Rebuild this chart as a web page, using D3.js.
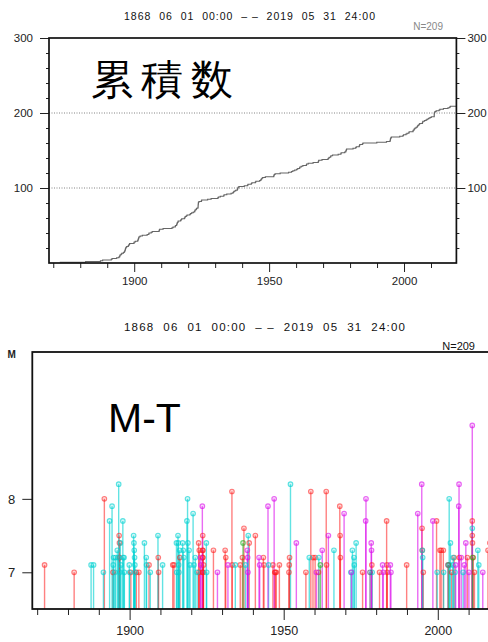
<!DOCTYPE html>
<html>
<head>
<meta charset="utf-8">
<script src="https://cdn.jsdelivr.net/npm/d3@7/dist/d3.min.js"></script>
<style>
  html, body { margin: 0; padding: 0; background: #fff; }
  svg { display: block; }
  text { font-family: "Liberation Sans", Arial, Helvetica, sans-serif; }
</style>
</head>
<body>
<svg id="chart" width="488" height="642"></svg>
<script>
// ---- period and ticks ----
const periodLabel = "1868  06  01  00:00  – –  2019  05  31  24:00";
const periodStart = 1868.42;
const periodEnd = 2019.41;
const countTicks = [100, 200, 300];
const countMinorTicks = [20, 40, 60, 80, 120, 140, 160, 180, 220, 240, 260, 280];
const countGrid = [100, 200];
const yearTicks = [1900, 1950, 2000];
const yearMinorTicks = [1870, 1880, 1890, 1910, 1920, 1930, 1940, 1960, 1970, 1980, 1990, 2010];
const magTicks = [7, 8];

// ---- events: [decimal year, magnitude], one list per colour group ----
const redEvents = [
  [1872.4, 7.1], [1882.0, 7.0], [1891.8, 8.0], [1894.6, 7.0], [1896.6, 7.5], [1896.7, 7.4],
  [1896.75, 7.2], [1900.4, 7.0], [1902.2, 7.0], [1903.0, 7.0], [1906.3, 7.1], [1909.3, 7.2],
  [1909.4, 7.0], [1914.0, 7.1], [1914.4, 7.1], [1916.3, 7.2], [1922.4, 7.4], [1922.5, 7.0],
  [1922.6, 7.3], [1923.67, 7.3], [1923.68, 7.2], [1923.7, 7.0], [1923.72, 7.5], [1923.75, 7.2],
  [1923.78, 7.3], [1923.8, 7.0], [1924.0, 7.1], [1927.2, 7.3], [1931.0, 7.3], [1931.2, 7.2],
  [1933.2, 8.1], [1933.3, 7.1], [1935.9, 7.1], [1936.6, 7.2], [1937.1, 7.6], [1938.8, 7.4],
  [1940.8, 7.5], [1943.4, 7.2], [1943.6, 7.1], [1946.5, 7.1], [1947.1, 7.0], [1947.3, 7.0],
  [1947.6, 7.0], [1948.6, 7.1], [1951.7, 7.0], [1951.8, 7.1], [1951.9, 7.2], [1957.2, 7.0],
  [1958.8, 8.1], [1959.5, 7.2], [1960.2, 7.2], [1961.3, 7.0], [1963.8, 8.1], [1963.9, 7.1],
  [1968.2, 7.9], [1968.3, 7.5], [1968.4, 7.2], [1975.6, 7.0], [1978.6, 7.1], [1981.1, 7.0],
  [1983.4, 7.7], [1983.5, 7.1], [1983.6, 7.0], [1989.9, 7.1], [1994.9, 7.6], [1994.95, 7.3],
  [1995.3, 7.0], [1999.6, 7.7], [2000.7, 7.3], [2001.1, 7.3], [2001.8, 7.3], [2004.5, 7.0],
  [2005.3, 7.2], [2007.0, 7.2], [2009.6, 7.2], [2011.19, 7.7], [2011.2, 7.5], [2011.25, 7.4],
  [2011.5, 7.2], [2011.9, 7.0], [2016.3, 7.3], [2016.9, 7.4]
];
const cyanEvents = [
  [1887.5, 7.1], [1888.3, 7.1], [1891.5, 7.0], [1893.5, 7.7], [1894.3, 7.9], [1894.7, 7.1],
  [1894.8, 7.2], [1895.2, 7.0], [1895.4, 7.2], [1896.0, 7.3], [1896.3, 7.2], [1896.45, 8.2],
  [1896.8, 7.0], [1897.0, 7.4], [1897.2, 7.1], [1897.8, 7.7], [1897.9, 7.2], [1898.2, 7.2],
  [1898.3, 7.0], [1899.9, 7.1], [1900.0, 7.0], [1901.3, 7.5], [1901.4, 7.4], [1901.5, 7.3],
  [1901.6, 7.2], [1901.7, 7.1], [1901.8, 7.0], [1904.8, 7.4], [1905.4, 7.2], [1905.5, 7.1],
  [1906.7, 7.0], [1909.2, 7.5], [1910.7, 7.1], [1915.2, 7.4], [1915.3, 7.0], [1915.7, 7.5],
  [1915.8, 7.4], [1915.9, 7.1], [1916.0, 7.0], [1916.2, 7.3], [1917.2, 7.4], [1917.4, 7.3],
  [1917.6, 7.2], [1918.6, 7.7], [1918.8, 8.0], [1918.9, 7.4], [1919.3, 7.3], [1919.6, 7.1],
  [1920.6, 7.8], [1920.9, 7.1], [1921.3, 7.2], [1921.9, 7.0], [1924.9, 7.4], [1925.0, 7.0],
  [1934.3, 7.1], [1937.6, 7.1], [1938.5, 7.5], [1945.1, 7.1], [1952.2, 8.2], [1958.3, 7.2],
  [1961.4, 7.2], [1966.3, 7.3], [1971.8, 7.0], [1972.3, 7.3], [1972.8, 7.2], [1972.9, 7.1],
  [1973.5, 7.4], [1978.7, 7.0], [1995.0, 7.3], [1995.1, 7.2], [1999.8, 7.0], [2001.9, 7.0],
  [2003.7, 8.0], [2003.8, 7.1], [2004.1, 7.4], [2004.9, 7.1], [2005.0, 7.2], [2005.6, 7.0],
  [2008.2, 7.0], [2011.2, 7.6], [2013.0, 7.3], [2013.3, 7.1], [2017.2, 7.0]
];
const magentaEvents = [
  [1923.0, 7.2], [1923.1, 7.1], [1923.6, 7.9], [1928.5, 7.0], [1931.9, 7.1], [1938.2, 7.3],
  [1938.3, 7.2], [1938.4, 7.0], [1942.0, 7.2], [1942.2, 7.1], [1944.9, 7.9], [1946.9, 8.0],
  [1954.1, 7.4], [1960.6, 7.0], [1962.5, 7.3], [1964.5, 7.5], [1969.6, 7.8], [1972.0, 7.0],
  [1976.6, 7.7], [1976.7, 8.0], [1978.4, 7.4], [1978.5, 7.3], [1982.1, 7.1], [1982.3, 7.0],
  [1984.6, 7.1], [1984.8, 7.0], [1993.5, 7.8], [1994.8, 8.2], [1998.4, 7.7], [2003.3, 7.1],
  [2005.8, 7.1], [2006.8, 7.9], [2006.9, 8.2], [2007.6, 7.2], [2008.6, 7.1], [2009.1, 7.4],
  [2010.1, 7.0], [2011.19, 9.0], [2014.6, 7.0]
];
const greenEvents = [
  [1936.8, 7.4], [1961.9, 7.1], [2003.4, 7.1], [2011.3, 7.2]
];
const grayEvents = [
  [1978.0, 7.0]
];

const groupStyle = {
  red:     { color: "#ff1a1a", opacity: 0.55 },
  cyan:    { color: "#00d2d2", opacity: 0.62 },
  magenta: { color: "#dc10ec", opacity: 0.62 },
  green:   { color: "#20b020", opacity: 0.6 },
  gray:    { color: "#505070", opacity: 0.6 }
};

const events = [].concat(
  redEvents.map(d => ({ year: d[0], mag: d[1], group: "red" })),
  cyanEvents.map(d => ({ year: d[0], mag: d[1], group: "cyan" })),
  magentaEvents.map(d => ({ year: d[0], mag: d[1], group: "magenta" })),
  greenEvents.map(d => ({ year: d[0], mag: d[1], group: "green" })),
  grayEvents.map(d => ({ year: d[0], mag: d[1], group: "gray" }))
);
const total = events.length;

// running count for the cumulative curve
const byYear = events.slice().sort((a, b) => a.year - b.year);
const cumulative = byYear.map((d, i) => ({ year: d.year, count: i + 1 }));
cumulative.push({ year: periodEnd, count: total });

const svg = d3.select("#chart");

function styleAxis(g, fontSize, color) {
  g.select(".domain").remove();
  g.selectAll(".tick line").attr("stroke", "#222").attr("stroke-width", 1);
  g.selectAll(".tick text").attr("font-size", fontSize).attr("fill", color)
    .attr("font-family", "Liberation Sans, Arial, sans-serif");
}

// =================== cumulative count panel ===================
const upper = { left: 49, right: 456.4, top: 38, bottom: 263 };
const xUp = d3.scaleLinear().domain([periodStart, periodEnd]).range([upper.left, upper.right]);
const yUp = d3.scaleLinear().domain([0, 300]).range([upper.bottom, upper.top]);

svg.append("text")
  .attr("x", 124).attr("y", 19.5)
  .attr("font-size", 10.5).attr("fill", "#111")
  .attr("textLength", 251).attr("lengthAdjust", "spacing")
  .style("white-space", "pre")
  .text(periodLabel);

svg.append("text")
  .attr("x", 443).attr("y", 29.5)
  .attr("text-anchor", "end")
  .attr("font-size", 10).attr("fill", "#888")
  .text("N=" + total);

// dotted reference lines
svg.append("g").selectAll("line").data(countGrid).join("line")
  .attr("x1", upper.left).attr("x2", upper.right)
  .attr("y1", d => yUp(d)).attr("y2", d => yUp(d))
  .attr("stroke", "#777").attr("stroke-width", 0.9)
  .attr("stroke-dasharray", "1,1.5");

// y axes both sides
svg.append("g").attr("transform", `translate(${upper.left},0)`)
  .call(d3.axisLeft(yUp).tickValues(countTicks).tickSize(9).tickPadding(7))
  .call(g => styleAxis(g, 11.5, "#222"));
svg.append("g").attr("transform", `translate(${upper.left},0)`)
  .call(d3.axisLeft(yUp).tickValues(countMinorTicks).tickSize(3).tickFormat(""))
  .call(g => styleAxis(g, 11, "#222"));
svg.append("g").attr("transform", `translate(${upper.right},0)`)
  .call(d3.axisRight(yUp).tickValues(countTicks).tickSize(9).tickPadding(2))
  .call(g => styleAxis(g, 11.5, "#222"));
svg.append("g").attr("transform", `translate(${upper.right},0)`)
  .call(d3.axisRight(yUp).tickValues(countMinorTicks).tickSize(3).tickFormat(""))
  .call(g => styleAxis(g, 11, "#222"));

// x axis
svg.append("g").attr("transform", `translate(0,${upper.bottom})`)
  .call(d3.axisBottom(xUp).tickValues(yearMinorTicks).tickSize(5).tickFormat(""))
  .call(g => styleAxis(g, 11, "#222"));
svg.append("g").attr("transform", `translate(0,${upper.bottom})`)
  .call(d3.axisBottom(xUp).tickValues(yearTicks).tickSize(9).tickPadding(4.5).tickFormat(d3.format("d")))
  .call(g => styleAxis(g, 11.5, "#222"));

// cumulative step curve
const stepLine = d3.line()
  .x(d => xUp(d.year))
  .y(d => yUp(d.count))
  .curve(d3.curveStepAfter);
svg.append("path")
  .datum(cumulative)
  .attr("fill", "none")
  .attr("stroke", "#666")
  .attr("stroke-width", 1.2)
  .attr("d", stepLine);

// frame
svg.append("rect")
  .attr("x", upper.left).attr("y", upper.top)
  .attr("width", upper.right - upper.left).attr("height", upper.bottom - upper.top)
  .attr("fill", "none").attr("stroke", "#111").attr("stroke-width", 1.7);

svg.append("text")
  .attr("x", 91).attr("y", 94)
  .attr("font-family", "'Noto Sans CJK JP', 'Noto Sans CJK SC', sans-serif")
  .attr("font-size", 42).attr("letter-spacing", 8).attr("fill", "#000")
  .text("累積数");

// =================== magnitude-time panel ===================
const lower = { left: 32.3, right: 497.6, top: 352, bottom: 609 };
const xLow = d3.scaleLinear().domain([periodStart, periodEnd]).range([lower.left, lower.right]);
const yLow = d3.scaleLinear().domain([6.5, 10]).range([lower.bottom, lower.top]);

svg.append("text")
  .attr("x", 124).attr("y", 330.5)
  .attr("font-size", 11.5).attr("fill", "#111")
  .attr("textLength", 281).attr("lengthAdjust", "spacing")
  .style("white-space", "pre")
  .text(periodLabel);

svg.append("text")
  .attr("x", 475).attr("y", 350)
  .attr("text-anchor", "end")
  .attr("font-size", 11).attr("fill", "#111")
  .text("N=" + total);

svg.append("text")
  .attr("x", 7.5).attr("y", 358)
  .attr("font-size", 10).attr("font-weight", "bold").attr("fill", "#222")
  .text("M");

svg.append("g").attr("transform", `translate(${lower.left},0)`)
  .call(d3.axisLeft(yLow).tickValues(magTicks).tickSize(10).tickPadding(7).tickFormat(d3.format("d")))
  .call(g => styleAxis(g, 13, "#222"));

svg.append("g").attr("transform", `translate(0,${lower.bottom})`)
  .call(d3.axisBottom(xLow).tickValues(yearMinorTicks).tickSize(6).tickFormat(""))
  .call(g => styleAxis(g, 12, "#222"));
svg.append("g").attr("transform", `translate(0,${lower.bottom})`)
  .call(d3.axisBottom(xLow).tickValues(yearTicks).tickSize(11).tickPadding(6).tickFormat(d3.format("d")))
  .call(g => styleAxis(g, 12.5, "#222"));

// stems with circle heads
const stems = svg.append("g");
stems.selectAll("line").data(events).join("line")
  .attr("x1", d => xLow(d.year)).attr("x2", d => xLow(d.year))
  .attr("y1", yLow(6.5)).attr("y2", d => yLow(d.mag))
  .attr("stroke", d => groupStyle[d.group].color)
  .attr("stroke-opacity", d => groupStyle[d.group].opacity)
  .attr("stroke-width", 1.4);
stems.selectAll("circle").data(events).join("circle")
  .attr("cx", d => xLow(d.year)).attr("cy", d => yLow(d.mag))
  .attr("r", 2.3)
  .attr("fill", d => groupStyle[d.group].color)
  .attr("fill-opacity", 0.18)
  .attr("stroke", d => groupStyle[d.group].color)
  .attr("stroke-opacity", d => groupStyle[d.group].opacity)
  .attr("stroke-width", 1.1);

// frame
svg.append("rect")
  .attr("x", lower.left).attr("y", lower.top)
  .attr("width", lower.right - lower.left).attr("height", lower.bottom - lower.top)
  .attr("fill", "none").attr("stroke", "#111").attr("stroke-width", 1.8);

svg.append("text")
  .attr("x", 108).attr("y", 432)
  .attr("font-family", "'Open Sans', 'Noto Sans', sans-serif")
  .attr("font-size", 41).attr("fill", "#000")
  .text("M-T");
</script>
</body>
</html>
